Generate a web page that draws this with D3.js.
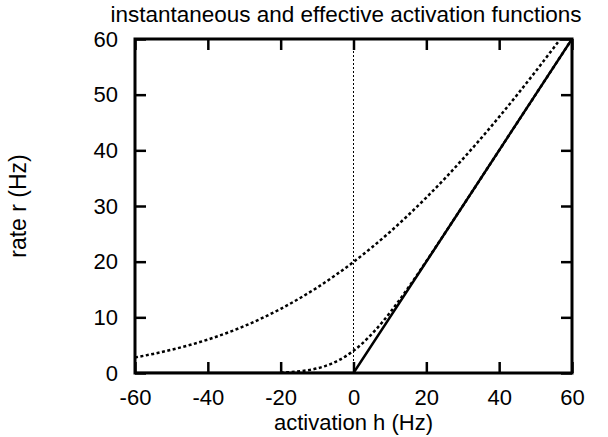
<!DOCTYPE html>
<html><head><meta charset="utf-8">
<script src="https://cdn.jsdelivr.net/npm/d3@7"></script>
<style>body{margin:0;background:#fff}svg{display:block}text{font-family:"Liberation Sans",Arial,sans-serif;fill:#000}</style>
</head><body>
<script>
// Data
const title = "instantaneous and effective activation functions";
const xLabel = "activation h (Hz)";
const yLabel = "rate r (Hz)";
const xTicks = [-60, -40, -20, 0, 20, 40, 60];
const yTicks = [0, 10, 20, 30, 40, 50, 60];
// instantaneous activation function (rectified linear)
const instH = [-60, 0, 60];
const instR = [0, 0, 60];
// effective activation, broad noise
const effBroadH = [-60,-55,-50,-45,-40,-35,-30,-25,-20,-15,-10,-5,0,5,10,15,20,25,30,35,40,45,50,55,60];
const effBroadR = [2.80,3.43,4.17,5.02,6.01,7.14,8.43,9.89,11.52,13.34,15.34,17.55,19.95,22.55,25.34,28.34,31.52,34.89,38.43,42.14,46.01,50.03,54.17,58.44,62.8];
// effective activation, narrow noise
const effNarrowH = [-20,-18,-16,-14,-12,-10,-8,-6,-4,-2,0,2,4,6,8,10,12,14,16,18,20,30,40,50,60];
const effNarrowR = [0.09,0.14,0.23,0.37,0.56,0.83,1.20,1.69,2.31,3.07,3.99,5.07,6.31,7.69,9.20,10.83,12.56,14.37,16.23,18.14,20.09,30.0,40.0,50.0,60.0];

const W = 608, H = 437;
const m = {left:135, right:572, top:39, bottom:373};
const svg = d3.select("body").append("svg").attr("width", W).attr("height", H);
const x = d3.scaleLinear().domain([-60, 60]).range([m.left, m.right]);
const y = d3.scaleLinear().domain([0, 60]).range([m.bottom, m.top]);

svg.append("defs").append("clipPath").attr("id","clip")
  .append("rect").attr("x", m.left).attr("y", m.top).attr("width", m.right-m.left).attr("height", m.bottom-m.top);

const fs = 23, tfs = 22;
const fmt = d => String(d);
// Axes with inward ticks
const tl = 11;
const axB = svg.append("g").attr("transform", `translate(0,${m.bottom})`)
  .call(d3.axisBottom(x).tickValues(xTicks).tickSizeInner(-tl).tickSizeOuter(0).tickPadding(16).tickFormat(fmt));
const axT = svg.append("g").attr("transform", `translate(0,${m.top})`)
  .call(d3.axisTop(x).tickValues(xTicks).tickSizeInner(-tl).tickSizeOuter(0).tickFormat(""));
const axL = svg.append("g").attr("transform", `translate(${m.left},0)`)
  .call(d3.axisLeft(y).tickValues(yTicks).tickSizeInner(-tl).tickSizeOuter(0).tickPadding(17).tickFormat(fmt));
const axR = svg.append("g").attr("transform", `translate(${m.right},0)`)
  .call(d3.axisRight(y).tickValues(yTicks).tickSizeInner(-tl).tickSizeOuter(0).tickFormat(""));
[axB, axT, axL, axR].forEach(g => {
  g.select(".domain").remove();
  g.selectAll(".tick line").attr("stroke", "#000").attr("stroke-width", 2.5);
  g.selectAll(".tick text").attr("font-size", tfs).attr("font-family", '"Liberation Sans",Arial,sans-serif').attr("fill", "#000");
});

const plot = svg.append("g").attr("clip-path", "url(#clip)");
// vertical zero line
plot.append("line").attr("x1", x(0)).attr("x2", x(0)).attr("y1", y(0)).attr("y2", y(60))
  .attr("stroke", "#000").attr("stroke-width", 1).attr("stroke-dasharray", "2,2");

const line = d3.line().x(d => x(d[0])).y(d => y(d[1])).curve(d3.curveMonotoneX);
plot.append("path").datum(effBroadH.map((h,i)=>[h, effBroadR[i]])).attr("d", line)
  .attr("fill","none").attr("stroke","#000").attr("stroke-width",2.5).attr("stroke-dasharray","3,2.5");
plot.append("path").datum(effNarrowH.map((h,i)=>[h, effNarrowR[i]])).attr("d", line)
  .attr("fill","none").attr("stroke","#000").attr("stroke-width",2.5).attr("stroke-dasharray","3,2.5");
plot.append("path").datum(instH.map((h,i)=>[h, instR[i]])).attr("d", d3.line().x(d=>x(d[0])).y(d=>y(d[1])))
  .attr("fill","none").attr("stroke","#000").attr("stroke-width",2.5);

// frame
svg.append("rect").attr("x", m.left).attr("y", m.top).attr("width", m.right-m.left).attr("height", m.bottom-m.top)
  .attr("fill","none").attr("stroke","#000").attr("stroke-width",3);

svg.append("text").attr("x", 346).attr("y", 21.5).attr("text-anchor","middle").attr("font-size", 22.5).text(title);
svg.append("text").attr("x", x(0)).attr("y", 430).attr("text-anchor","middle").attr("font-size", 22).text(xLabel);
svg.append("text").attr("transform", `translate(26,206) rotate(-90)`).attr("text-anchor","middle").attr("font-size", fs).text(yLabel);
</script>
</body></html>
